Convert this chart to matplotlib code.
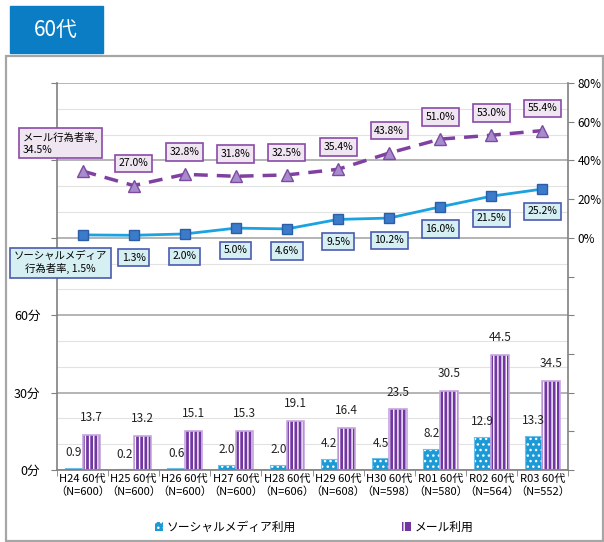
import numpy as np
import matplotlib
matplotlib.use('Agg')
import matplotlib.pyplot as plt
from matplotlib.patches import Rectangle, Patch
from matplotlib.ticker import FixedLocator, MultipleLocator

plt.rcParams['font.family'] = ['Noto Sans CJK JP', 'DejaVu Sans']
plt.rcParams['hatch.linewidth'] = 1.0

# 調査年度と回答者数
years = ['H24', 'H25', 'H26', 'H27', 'H28', 'H29', 'H30', 'R01', 'R02', 'R03']
sample_n = [600, 600, 600, 600, 606, 608, 598, 580, 564, 552]

# 平均利用時間（分）
social_min = [0.9, 0.2, 0.6, 2.0, 2.0, 4.2, 4.5, 8.2, 12.9, 13.3]
mail_min = [13.7, 13.2, 15.1, 15.3, 19.1, 16.4, 23.5, 30.5, 44.5, 34.5]

# 行為者率（%）
social_rate = [1.5, 1.3, 2.0, 5.0, 4.6, 9.5, 10.2, 16.0, 21.5, 25.2]
mail_rate = [34.5, 27.0, 32.8, 31.8, 32.5, 35.4, 43.8, 51.0, 53.0, 55.4]

labels = [f'{y} 60代\n（N={n}）' for y, n in zip(years, sample_n)]

fig = plt.figure(figsize=(6.04, 5.42), dpi=100)

# 外枠とタイトル
fig.patches.append(Rectangle((6 / 604, 1 - 541 / 542), 597 / 604, 485 / 542,
                             transform=fig.transFigure, fill=False,
                             edgecolor='#a6a6a6', lw=1.6))
fig.patches.append(Rectangle((10 / 604, 1 - 53 / 542), 93 / 604, 47 / 542,
                             transform=fig.transFigure, color='#0b7dc4'))
fig.text(56 / 604, 1 - 30 / 542, '60代', color='white', fontsize=15,
         ha='center', va='center')

ax = fig.add_axes([57 / 604, 1 - 470 / 542, 511 / 604, 387 / 542])
ax2 = ax.twinx()

x = np.arange(len(years))
w = 0.34

# 棒グラフ（利用時間）
ax.bar(x - w / 2, social_min, w, color='#1b9ad8', edgecolor='white',
       hatch='...', linewidth=0, zorder=2)
ax.bar(x - w / 2, social_min, w, fill=False, edgecolor='#6cc0ea', lw=0.8, zorder=2)
ax.bar(x + w / 2, mail_min, w, color='#7236a3', edgecolor='white',
       hatch='||||', linewidth=0, zorder=2)
ax.bar(x + w / 2, mail_min, w, fill=False, edgecolor='#c6a6e0', lw=1.2, zorder=2)

for xi, v in zip(x, social_min):
    ax.annotate(f'{v:.1f}', (xi - w / 2, v), xytext=(0, 11), textcoords='offset points',
                ha='center', va='center', fontsize=8.5, color='#222222')
for xi, v in zip(x, mail_min):
    ax.annotate(f'{v:.1f}', (xi + w / 2, v), xytext=(0, 12.5), textcoords='offset points',
                ha='center', va='center', fontsize=8.5, color='#222222')

ax.set_xlim(-0.5, len(years) - 0.5)
ax.set_ylim(0, 150)
ax.set_xticks(x, labels, fontsize=8)
ax.xaxis.set_minor_locator(FixedLocator(np.arange(-0.5, len(years), 1.0)))
ax.tick_params(axis='x', which='major', length=0, pad=3)
ax.tick_params(axis='x', which='minor', length=4, color='#808080')
ax.set_yticks(np.arange(0, 151, 30), ['0分', '30分', '60分', '', '', ''])
ax.yaxis.set_minor_locator(MultipleLocator(10))
ax.tick_params(axis='y', which='major', length=4, color='#808080', pad=8, labelsize=9)
ax.tick_params(axis='y', which='minor', length=0)
ax.grid(which='major', axis='y', color='#a8a8a8', lw=1.2, zorder=0)
ax.grid(which='minor', axis='y', color='#e2e2e2', lw=0.8, zorder=0)
ax.set_axisbelow(True)
for s in ['top', 'right']:
    ax.spines[s].set_visible(False)
for s in ['left', 'bottom']:
    ax.spines[s].set_color('#808080')
    ax.spines[s].set_linewidth(1.2)

# 折れ線（行為者率）
ax2.plot(x, social_rate, color='#1aa3e0', lw=2, marker='s', ms=7.5,
         mfc='#3b7bca', mec='#2b5da8', zorder=3)
ax2.plot(x, mail_rate, color='#7f40a2', lw=2.5, ls=(0, (4, 2.6)), marker='^', ms=8.5,
         mfc='#a88bcc', mec='#7c4aa0', zorder=3)

social_box = dict(boxstyle='square,pad=0.35', fc='#d5eff2', ec='#4b5bb0', lw=1.2)
mail_box = dict(boxstyle='square,pad=0.35', fc='#efe6f2', ec='#8a4aa8', lw=1.2)

for xi, v in list(zip(x, social_rate))[1:]:
    ax2.annotate(f'{v:.1f}%', (xi, v), xytext=(0, -16), textcoords='offset points',
                 ha='center', va='center', fontsize=7.5, bbox=social_box)
for xi, v in list(zip(x, mail_rate))[1:]:
    ax2.annotate(f'{v:.1f}%', (xi, v), xytext=(0, 16), textcoords='offset points',
                 ha='center', va='center', fontsize=7.5, bbox=mail_box)

ax2.annotate(f'メール行為者率,\n{mail_rate[0]:.1f}%', (x[0], mail_rate[0]),
             xytext=(-16, 20), textcoords='offset points', ha='center', va='center',
             multialignment='left', fontsize=7.5, bbox=dict(mail_box, pad=0.5),
             annotation_clip=False)
ax2.annotate(f'ソーシャルメディア\n行為者率, {social_rate[0]:.1f}%', (x[0], social_rate[0]),
             xytext=(-16, -20), textcoords='offset points', ha='center', va='center',
             multialignment='center', fontsize=7.5, bbox=dict(social_box, pad=0.5),
             annotation_clip=False)

ax2.set_ylim(-120, 80)
pct_ticks = np.arange(-120, 81, 20)
ax2.set_yticks(pct_ticks, [f'{v}%' if v >= 0 else '' for v in pct_ticks])
ax2.tick_params(axis='y', length=4, color='#808080', pad=3, labelsize=8.5)
for s in ['top', 'left', 'bottom']:
    ax2.spines[s].set_visible(False)
ax2.spines['right'].set_color('#808080')
ax2.spines['right'].set_linewidth(1.2)

# 凡例
handles = [Patch(facecolor='#1b9ad8', edgecolor='white', hatch='...', lw=0),
           Patch(facecolor='#7236a3', edgecolor='white', hatch='||', lw=0)]
fig.legend(handles, ['ソーシャルメディア利用', 'メール利用'], loc='center',
           bbox_to_anchor=(314 / 604, 1 - 527 / 542), ncol=2, frameon=False,
           fontsize=8.5, handlelength=0.7, handleheight=0.7, handletextpad=0.3,
           columnspacing=9)

fig.savefig('out.png', dpi=100)
